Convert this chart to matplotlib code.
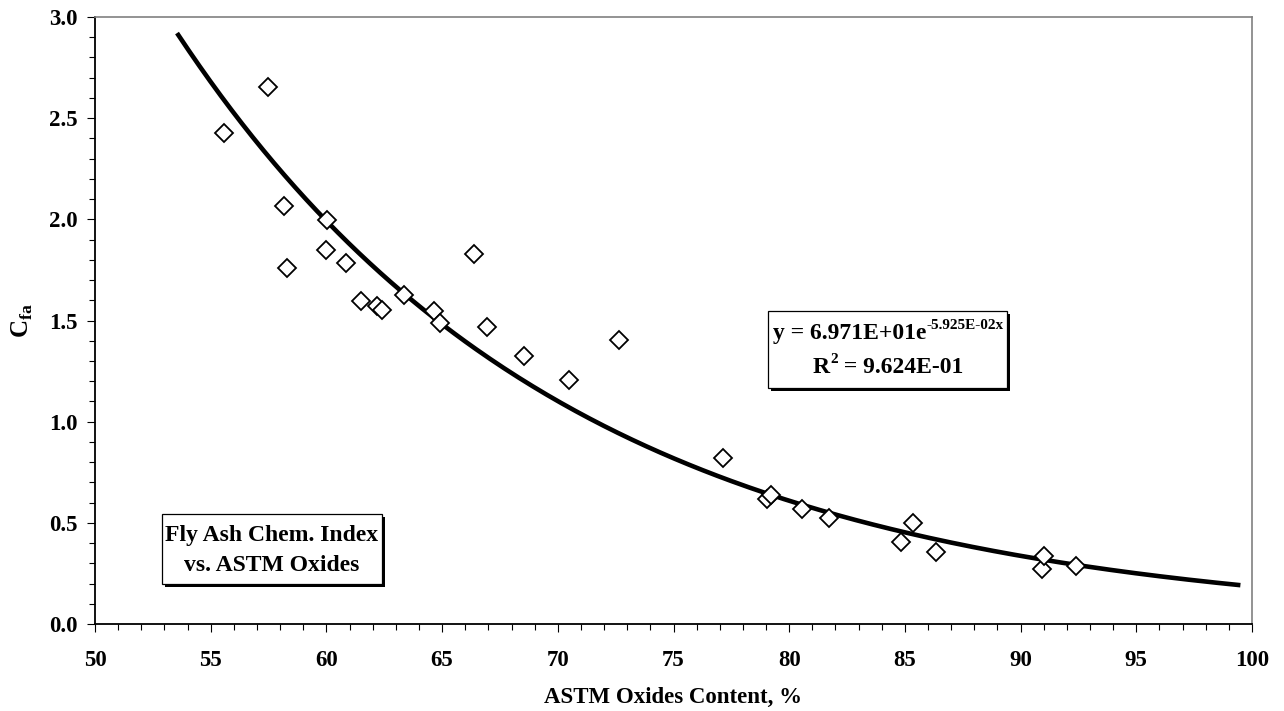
import numpy as np
import matplotlib
matplotlib.use('Agg')
import matplotlib.pyplot as plt
from matplotlib.patches import Rectangle
from matplotlib.ticker import MultipleLocator, FormatStrFormatter

# ASTM oxides content (%) and fly ash chemical index C_fa
oxides = [55.57, 57.48, 58.17, 58.28, 60.01, 59.97, 60.83, 61.50, 62.17, 62.39,
          63.35, 64.66, 64.91, 66.38, 66.95, 68.55, 70.50, 72.63,
          77.15, 79.05, 79.21, 80.54, 81.71,
          84.82, 85.36, 86.34, 90.94, 91.03, 92.39]
cfa = [2.425, 2.652, 2.068, 1.759, 1.997, 1.849, 1.782, 1.596, 1.571, 1.550,
       1.627, 1.545, 1.487, 1.830, 1.469, 1.323, 1.206, 1.405,
       0.818, 0.617, 0.637, 0.566, 0.522,
       0.406, 0.500, 0.354, 0.271, 0.336, 0.286]

# exponential trend y = a*exp(b*x)
fit_a = 6.971E+01
fit_b = -5.925E-02
fit_r2 = 9.624E-01
fit_range = [53.6, 99.4]

plt.rcParams['font.family'] = 'Liberation Serif'
plt.rcParams['font.weight'] = 'bold'
plt.rcParams['axes.labelweight'] = 'bold'
plt.rcParams['mathtext.fontset'] = 'custom'
plt.rcParams['mathtext.rm'] = 'Liberation Serif:bold'
plt.rcParams['mathtext.bf'] = 'Liberation Serif:bold'

W, H = 1284, 711
fig = plt.figure(figsize=(W / 100, H / 100), dpi=100)
ax = fig.add_axes([95 / W, 1 - 624 / H, (1252 - 95) / W, (624 - 17) / H])

xf = np.linspace(fit_range[0], fit_range[1], 300)
ax.plot(xf, fit_a * np.exp(fit_b * xf), color='k', lw=3.3, zorder=2)
ax.plot(oxides, cfa, ls='none', marker='D', ms=9.3, mfc='white', mec='k', mew=1.3, zorder=3)

ax.set_xlim(50, 100)
ax.set_ylim(0, 3.0)
ax.xaxis.set_major_locator(MultipleLocator(5))
ax.xaxis.set_minor_locator(MultipleLocator(1))
ax.yaxis.set_major_locator(MultipleLocator(0.5))
ax.yaxis.set_minor_locator(MultipleLocator(0.1))
ax.yaxis.set_major_formatter(FormatStrFormatter('%.1f'))

ax.tick_params(axis='x', which='major', direction='out', length=5.5, width=0.8, pad=13, labelsize=16.5)
ax.tick_params(axis='x', which='minor', direction='out', length=4.3, width=0.8)
ax.tick_params(axis='y', which='major', direction='out', length=5.5, width=0.8, pad=7, labelsize=16.5)
ax.tick_params(axis='y', which='minor', direction='out', length=4, width=0.8)

for side in ['top', 'right']:
    ax.spines[side].set_color('#808080')
    ax.spines[side].set_linewidth(1.2)
for side in ['left', 'bottom']:
    ax.spines[side].set_color('k')
    ax.spines[side].set_linewidth(1.3)

ax.set_xlabel('ASTM Oxides Content, %', fontsize=16.5, va='center')
ax.xaxis.set_label_coords(0.5, (624 - 697) / 607)
ax.set_ylabel(r'C$_{\mathrm{fa}}$', fontsize=18, va='center')
ax.yaxis.set_label_coords((22 - 95) / 1157, 0.5)


def shadow_box(x0, y0, x1, y1):
    # box given in pixels from top-left, black shadow offset down-right
    fig.patches.append(Rectangle((x0 + 3, H - y1 - 3), x1 - x0, y1 - y0, transform=None,
                                 facecolor='k', edgecolor='k', lw=0, zorder=5))
    fig.patches.append(Rectangle((x0, H - y1), x1 - x0, y1 - y0, transform=None,
                                 facecolor='white', edgecolor='k', lw=0.9, zorder=6))


renderer = fig.canvas.get_renderer()


def put_runs(runs, xc, yb):
    # runs of (text, size, rise) laid out left to right, centred on xc, baseline yb (px from top)
    items = []
    total = 0
    for s, size, rise in runs:
        t = fig.text(0, 0, s, fontsize=size, fontweight='bold', ha='left', va='baseline',
                     transform=None, zorder=7)
        w = t.get_window_extent(renderer).width
        items.append((t, w, rise))
        total += w
    x = xc - total / 2
    for t, w, rise in items:
        t.set_position((x, H - yb + rise))
        x += w


shadow_box(162, 514, 382, 584)
put_runs([('Fly Ash Chem. Index', 17, 0)], 272, 541)
put_runs([('vs. ASTM Oxides', 17, 0)], 272, 571)

shadow_box(768, 311, 1007, 388)
put_runs([('y = %.3E' % fit_a + 'e', 17, 0), ('%.3E' % fit_b + 'x', 11, 10)], 888, 339)
put_runs([('R', 17, 0), ('2', 11, 10), (' = %.3E' % fit_r2, 17, 0)], 888, 373)

fig.savefig('out.png', dpi=100)
